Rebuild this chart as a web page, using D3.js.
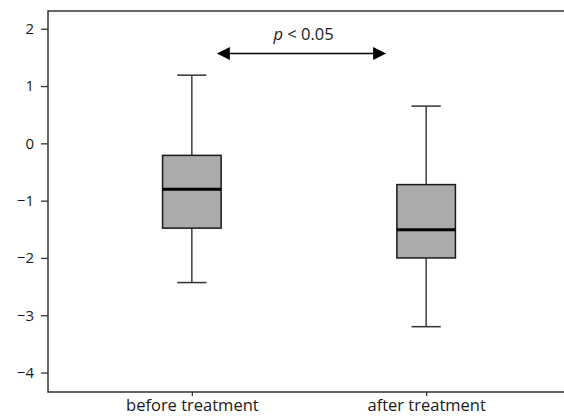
<!DOCTYPE html>
<html>
<head>
<meta charset="utf-8">
<script src="https://cdn.jsdelivr.net/npm/d3@7"></script>
<style>
  body { margin: 0; background: #fff; }
  svg { display: block; font-family: "Open Sans", sans-serif; }
</style>
</head>
<body>
<div id="chart"></div>
<script>
// values
const groups = ["before treatment", "after treatment"];
const whiskerLow = [-2.43, -3.2];
const q1 = [-1.48, -2.0];
const median = [-0.8, -1.51];
const q3 = [-0.21, -0.72];
const whiskerHigh = [1.19, 0.65];
const yTicks = [-4, -3, -2, -1, 0, 1, 2];
const pLabel = "< 0.05";

const width = 564, height = 418;
const margin = { top: 11, right: -6, bottom: 26, left: 48 };

const svg = d3.select("#chart").append("svg")
  .attr("width", width)
  .attr("height", height);

const x = d3.scalePoint()
  .domain(groups)
  .range([margin.left, width - margin.right])
  .padding(0.614);

const y = d3.scaleLinear()
  .domain([-4.34, 2.31])
  .range([height - margin.bottom, margin.top]);

const step = x.step();
const boxW = step * 0.25;
const capW = step * 0.125;

// y axis
svg.append("g")
  .attr("transform", "translate(" + margin.left + ",0)")
  .call(d3.axisLeft(y).tickValues(yTicks).tickSize(7).tickPadding(7)
    .tickFormat(d => d < 0 ? "\u2212" + Math.abs(d) : d))
  .call(g => g.select(".domain").remove())
  .call(g => g.selectAll("line").attr("stroke", "#333").attr("stroke-width", 1.3))
  .call(g => g.selectAll("text").attr("font-size", 15).attr("fill", "#1a1a1a").attr("font-family", "Open Sans"));

// x axis
svg.append("g")
  .attr("transform", "translate(0," + (height - margin.bottom) + ")")
  .call(d3.axisBottom(x).tickSize(4).tickPadding(3))
  .call(g => g.select(".domain").remove())
  .call(g => g.selectAll("line").attr("stroke", "#333").attr("stroke-width", 1.3))
  .call(g => g.selectAll("text").attr("font-size", 16.5).attr("fill", "#1a1a1a").attr("font-family", "Open Sans"));

// frame
svg.append("rect")
  .attr("x", margin.left)
  .attr("y", margin.top)
  .attr("width", width - margin.right - margin.left)
  .attr("height", height - margin.bottom - margin.top)
  .attr("fill", "none")
  .attr("stroke", "#333")
  .attr("stroke-width", 1.5);

const box = svg.selectAll(".box")
  .data(groups)
  .enter().append("g")
  .attr("class", "box");

// whiskers
box.append("line")
  .attr("x1", d => x(d)).attr("x2", d => x(d))
  .attr("y1", (d, i) => y(whiskerLow[i]))
  .attr("y2", (d, i) => y(whiskerHigh[i]))
  .attr("stroke", "#222").attr("stroke-width", 1.3);

box.selectAll(".cap")
  .data((d, i) => [{ g: d, v: whiskerLow[i] }, { g: d, v: whiskerHigh[i] }])
  .enter().append("line")
  .attr("x1", d => x(d.g) - capW / 2)
  .attr("x2", d => x(d.g) + capW / 2)
  .attr("y1", d => y(d.v)).attr("y2", d => y(d.v))
  .attr("stroke", "#333").attr("stroke-width", 1.5);

box.append("rect")
  .attr("x", d => x(d) - boxW / 2)
  .attr("width", boxW)
  .attr("y", (d, i) => y(q3[i]))
  .attr("height", (d, i) => y(q1[i]) - y(q3[i]))
  .attr("fill", "#ababab")
  .attr("stroke", "#1a1a1a")
  .attr("stroke-width", 1.5);

box.append("line")
  .attr("x1", d => x(d) - boxW / 2)
  .attr("x2", d => x(d) + boxW / 2)
  .attr("y1", (d, i) => y(median[i]))
  .attr("y2", (d, i) => y(median[i]))
  .attr("stroke", "#000").attr("stroke-width", 3);

// significance arrow
const ay = y(1.57);
const ax1 = x(groups[0]) + 25;
const ax2 = x(groups[1]) - 40;
const headL = 13, headH = 6.5;

svg.append("line")
  .attr("x1", ax1 + headL - 1).attr("x2", ax2 - headL + 1)
  .attr("y1", ay).attr("y2", ay)
  .attr("stroke", "#000").attr("stroke-width", 1.5);

svg.append("path")
  .attr("d", "M" + ax1 + "," + ay + "L" + (ax1 + headL) + "," + (ay - headH) + "L" + (ax1 + headL) + "," + (ay + headH) + "Z")
  .attr("fill", "#000");
svg.append("path")
  .attr("d", "M" + ax2 + "," + ay + "L" + (ax2 - headL) + "," + (ay - headH) + "L" + (ax2 - headL) + "," + (ay + headH) + "Z")
  .attr("fill", "#000");

const pt = svg.append("text")
  .attr("x", (ax1 + ax2) / 2 + 2)
  .attr("y", ay - 13)
  .attr("text-anchor", "middle")
  .attr("font-size", 16.5)
  .attr("fill", "#1a1a1a");
pt.append("tspan").attr("font-style", "italic").text("p");
pt.append("tspan").text(" " + pLabel);
</script>
</body>
</html>
